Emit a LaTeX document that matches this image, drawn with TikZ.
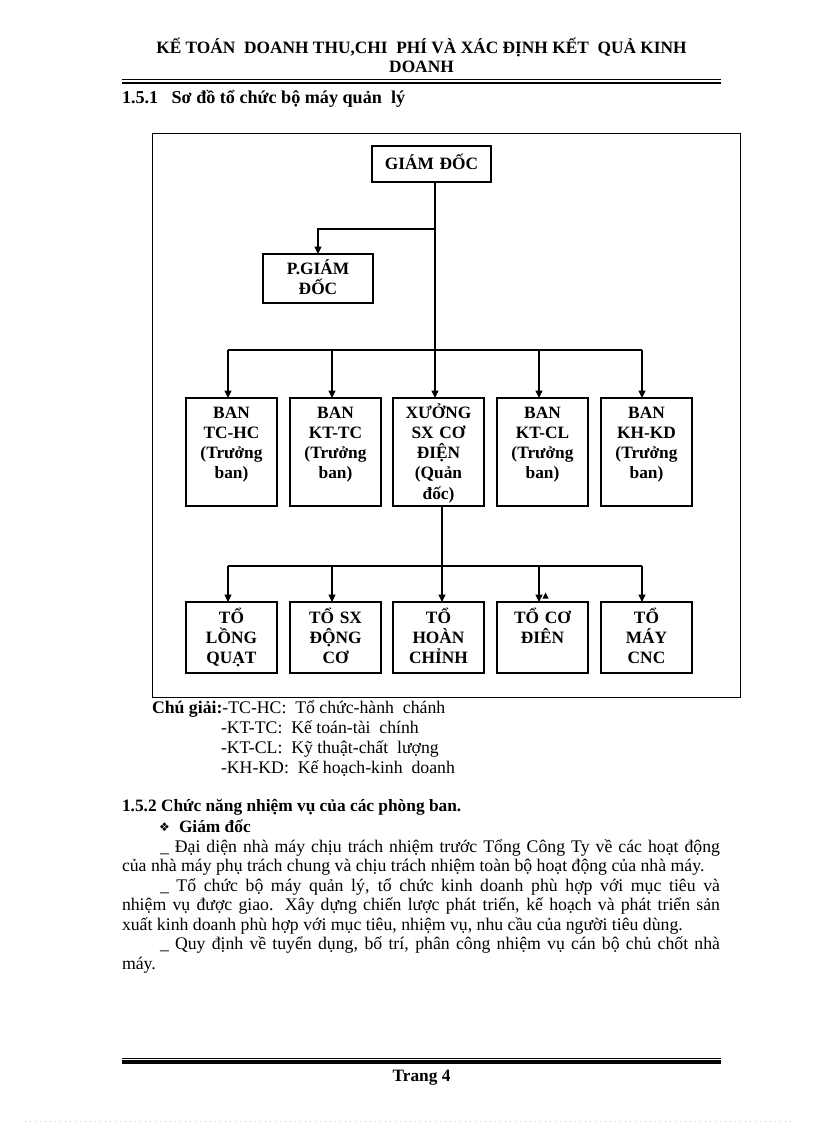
\documentclass[tikz,border=0pt]{standalone}
\usepackage{fontspec}
\setmainfont{Liberation Serif}
\newfontfamily\symfont{DejaVu Sans}
\usetikzlibrary{arrows.meta}
\lineskiplimit=-30pt
\begin{document}
\begin{tikzpicture}[x=0.75pt,y=-0.75pt,
  every node/.style={inner sep=0pt, outer sep=0pt, font=\fontsize{13}{15}\selectfont},
  boxbase/.style={draw, line width=0.8pt, align=center,
    font=\bfseries\fontsize{13}{15.2}\selectfont},
  gdbox/.style={boxbase, text width=89.25pt, text height=18pt, text depth=9pt},
  pgdbox/.style={boxbase, text width=82.5pt, text height=15pt, text depth=21.75pt},
  banbox/.style={boxbase, text width=68.25pt, text height=15pt, text depth=66pt},
  tobox/.style={boxbase, text width=68.25pt, text height=15.75pt, text depth=37.5pt},
  conn/.style={line width=0.8pt},
  arr/.style={-{Triangle[length=5.5pt,width=5.25pt]}},
  hdr/.style={font=\bfseries\fontsize{13}{15}\selectfont},
  bodyl/.style={anchor=base west, font=\fontsize{13.3}{15}\selectfont}
]
\lineskiplimit=-30pt
\useasboundingbox (0,0) rectangle (816,1123);

% header
\node[hdr, anchor=base] (h1) at (421.5,53.5) {KẾ TOÁN\ \ DOANH THU,CHI\ \ PHÍ VÀ XÁC ĐỊNH KẾT\ \ QUẢ KINH};
\node[hdr, anchor=base] (h2) at (421.5,73) {DOANH};
\draw[line width=0.75pt] (122,80) -- (721,80);
\draw[line width=2.1pt] (122,83) -- (721,83);

\node[anchor=base west, font=\bfseries\fontsize{13.6}{15}\selectfont] (s1) at (122,104) {1.5.1\hspace{10pt}Sơ đồ tổ chức bộ máy quản\ \ lý};

% frame
\draw[line width=0.75pt] (152,134) rectangle (740,697);

% boxes
\node[gdbox, anchor=north] (gd) at (431.5,146) {GIÁM ĐỐC};
\node[pgdbox, anchor=north] (pgd) at (318,254) {P.GIÁM\\ĐỐC};

\node[banbox, anchor=north] (b1) at (231.5,398) {BAN\\TC-HC\\(Trưởng\\ban)};
\node[banbox, anchor=north] (b2) at (335.5,398) {BAN\\KT-TC\\(Trưởng\\ban)};
\node[banbox, anchor=north] (b3) at (438.5,398) {XƯỞNG\\SX CƠ\\ĐIỆN\\(Quản\\đốc)};
\node[banbox, anchor=north] (b4) at (542.5,398) {BAN\\KT-CL\\(Trưởng\\ban)};
\node[banbox, anchor=north] (b5) at (646.5,398) {BAN\\KH-KD\\(Trưởng\\ban)};

\node[tobox, anchor=north] (t1) at (231.5,602) {TỔ\\LỒNG\\QUẠT};
\node[tobox, anchor=north] (t2) at (335.5,602) {TỔ SX\\ĐỘNG\\CƠ};
\node[tobox, anchor=north] (t3) at (438.5,602) {TỔ\\HOÀN\\CHỈNH};
\node[tobox, anchor=north] (t4) at (542.5,602) {TỔ CƠ\\ĐIÊN};
\node[tobox, anchor=north] (t5) at (646.5,602) {TỔ\\MÁY\\CNC};

% junction coordinates
\coordinate (j0) at (435,229);
\coordinate (c1) at (228,350);
\coordinate (c2) at (332,350);
\coordinate (c3) at (435,350);
\coordinate (c4) at (539,350);
\coordinate (c5) at (642,350);
\coordinate (d1) at (228,566);
\coordinate (d2) at (332,566);
\coordinate (d3) at (442,566);
\coordinate (d4) at (539,566);
\coordinate (d5) at (642,566);

% connectors
\draw[conn] (gd.south -| j0) -- (j0);
\draw[conn,arr] (j0) -| (pgd.north);
\draw[conn] (j0) -- (c3);
\draw[conn] (c1) -- (c5);
\foreach \i in {1,...,5} {\draw[conn,arr] (c\i) -- (c\i |- b\i.north);}
\draw[conn] (b3.south -| d3) -- (d3);
\draw[conn] (d1) -- (d5);
\foreach \i in {1,...,5} {\draw[conn,arr] (d\i) -- (d\i |- t\i.north);}
% small stray arrowhead
\fill (542.5,598.5) -- (548.5,598.5) -- (545.5,592.5) -- cycle;

% legend
\node[bodyl] (lg1) at (152,713) {\textbf{Chú giải:}-TC-HC:\ \ Tổ chức-hành\ \ chánh};
\node[bodyl] (lg2) at (221,733) {-KT-TC:\ \ Kế toán-tài\ \ chính};
\node[bodyl] (lg3) at (221,753) {-KT-CL:\ \ Kỹ thuật-chất\ \ lượng};
\node[bodyl] (lg4) at (221,773) {-KH-KD:\ \ Kế hoạch-kinh\ \ doanh};

% section 1.5.2
\node[hdr, anchor=base west] (s2) at (122,811) {1.5.2 Chức năng nhiệm vụ của các phòng ban.};
\node[anchor=base west, font=\symfont\fontsize{9}{10}\selectfont] (bul) at (159,831) {❖};
\node[hdr, anchor=base west] (gdt) at (179,832) {Giám đốc};

\node[bodyl] (p1) at (160,852) {\makebox[420pt][s]{\_ Đại diện nhà máy chịu trách nhiệm trước Tổng Công Ty về các hoạt động}};
\node[bodyl] (p2) at (122,871.5) {của nhà máy phụ trách chung và chịu trách nhiệm toàn bộ hoạt động của nhà máy.};
\node[bodyl] (p3) at (160,891) {\makebox[420pt][s]{\_ Tổ chức bộ máy quản lý, tổ chức kinh doanh phù hợp với mục tiêu và}};
\node[bodyl] (p4) at (122,910.5) {\makebox[448.5pt][s]{nhiệm vụ được giao. Xây dựng chiến lược phát triển, kế hoạch và phát triển sản}};
\node[bodyl] (p5) at (122,930) {xuất kinh doanh phù hợp với mục tiêu, nhiệm vụ, nhu cầu của người tiêu dùng.};
\node[bodyl] (p6) at (160,949.5) {\makebox[420pt][s]{\_ Quy định về tuyển dụng, bố trí, phân công nhiệm vụ cán bộ chủ chốt nhà}};
\node[bodyl] (p7) at (122,969) {máy.};

% footer
\draw[line width=0.75pt] (122,1058) -- (721,1058);
\draw[line width=2.6pt] (122,1062) -- (721,1062);
\node[hdr, anchor=base] (ft) at (421.5,1081) {Trang 4};

% bottom dotted edge
\draw[gray!45, line width=0.6pt, dash pattern=on 0.75pt off 3pt] (25,1121.5) -- (795,1121.5);
\end{tikzpicture}
\end{document}
